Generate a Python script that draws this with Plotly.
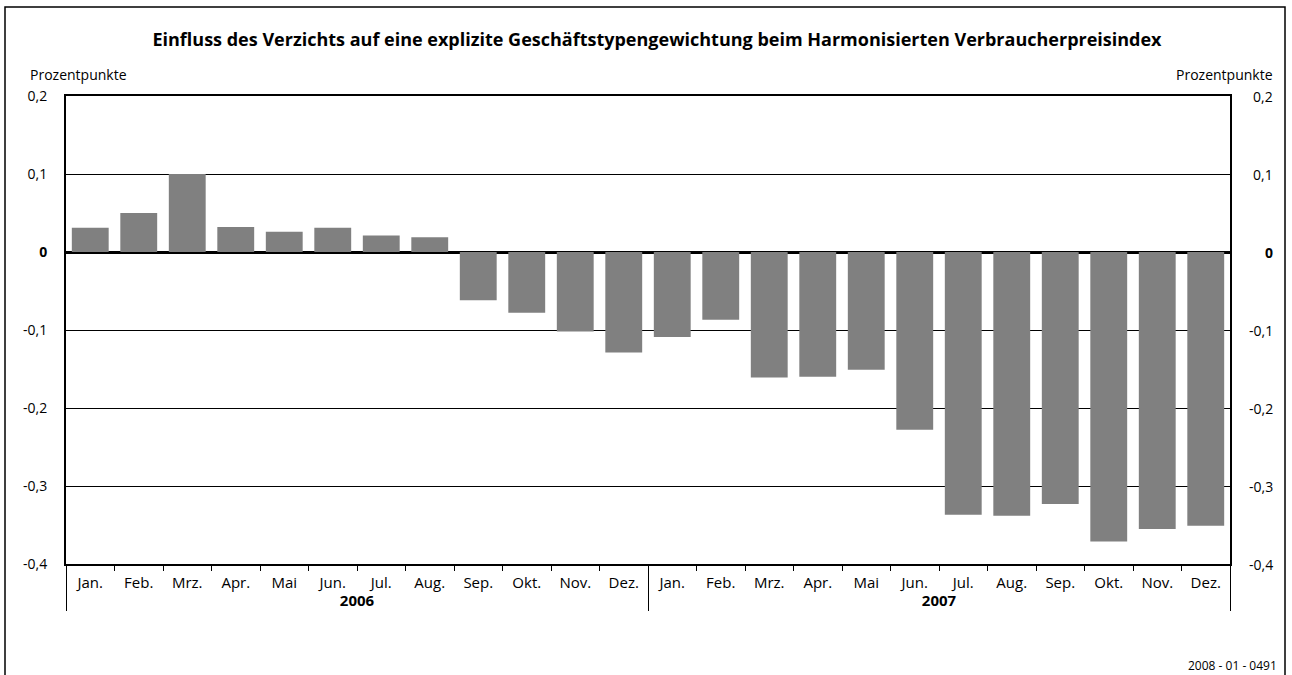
import plotly.graph_objects as go

years = ["2006"] * 12 + ["2007"] * 12
months = ["Jan.", "Feb.", "Mrz.", "Apr.", "Mai", "Jun.", "Jul.", "Aug.", "Sep.", "Okt.", "Nov.", "Dez."] * 2
values = [0.031, 0.050, 0.100, 0.032, 0.026, 0.031, 0.021, 0.019, -0.062, -0.078, -0.102, -0.129,
          -0.109, -0.087, -0.161, -0.160, -0.151, -0.228, -0.337, -0.338, -0.323, -0.371, -0.355, -0.351]
ytick_vals = [0.2, 0.1, 0.0, -0.1, -0.2, -0.3, -0.4]
ytick_text = ["0,2", "0,1", "<b>0</b>", "-0,1", "-0,2", "-0,3", "-0,4"]

title = "Einfluss des Verzichts auf eine explizite Geschäftstypengewichtung beim Harmonisierten Verbraucherpreisindex"
unit = "Prozentpunkte"
source = "2008 - 01 - 0491"

FONT = "Open Sans"

fig = go.Figure()
fig.add_trace(go.Bar(
    x=[[f"<b>{y}</b>" for y in years], months],
    y=values,
    marker=dict(color="#808080", line=dict(width=0)),
    width=0.76,
))

W, H = 1292, 675
L, R, T, B = 66, 62, 96, 111
pw, ph = W - L - R, H - T - B

def px(x):
    return (x - L) / pw

def py(y):
    return (H - B - y) / ph

fig.update_layout(
    width=W, height=H,
    margin=dict(l=L, r=R, t=T, b=B),
    paper_bgcolor="white", plot_bgcolor="white",
    showlegend=False,
    font=dict(family=FONT, size=14, color="black"),
    title=dict(text=f"<b>{title}</b>", x=657 / W, xanchor="center", y=1 - 40 / H, yanchor="middle",
               font=dict(family=FONT, size=18, color="black")),
    xaxis=dict(
        type="multicategory",
        showline=True, linecolor="black", linewidth=2, mirror=True,
        ticks="outside", ticklen=5, tickcolor="black", tickwidth=1,
        showdividers=True, dividercolor="black", dividerwidth=1,
        tickfont=dict(family=FONT, size=15, color="black"),
        ticklabelstandoff=4,
        showgrid=False,
    ),
    yaxis=dict(
        range=[-0.4, 0.2],
        tickvals=ytick_vals, ticktext=ytick_text,
        showgrid=True, gridcolor="black", gridwidth=1,
        zeroline=True, zerolinecolor="black", zerolinewidth=2.5,
        showline=True, linecolor="black", linewidth=2, mirror=True,
        ticks="", ticklabelstandoff=14,
        tickfont=dict(family=FONT, size=14, color="black"),
    ),
)

for v, t in zip(ytick_vals, ytick_text):
    fig.add_annotation(x=px(1273), xref="paper", y=v, yref="y", text=t, showarrow=False,
                       xanchor="right", yanchor="middle", xshift=2,
                       font=dict(family=FONT, size=14, color="black"))

fig.add_annotation(x=px(28), xref="paper", y=py(75), yref="paper", text=unit, showarrow=False,
                   xanchor="left", yanchor="middle", font=dict(family=FONT, size=14, color="black"))
fig.add_annotation(x=px(1273), xref="paper", y=py(75), yref="paper", text=unit, showarrow=False,
                   xanchor="right", yanchor="middle", xshift=2, font=dict(family=FONT, size=14, color="black"))
fig.add_annotation(x=px(1277), xref="paper", y=py(665), yref="paper", text=source, showarrow=False,
                   xanchor="right", yanchor="middle", xshift=2, font=dict(family=FONT, size=12, color="black"))

fig.add_shape(type="rect", xref="paper", yref="paper",
              x0=px(5), x1=px(1285), y0=py(690), y1=py(7),
              line=dict(color="black", width=1.5), fillcolor="rgba(0,0,0,0)", layer="above")

fig.write_html("out.html", config={"displayModeBar": False},
               post_script="document.body.style.margin='0';document.body.style.overflow='hidden';")
